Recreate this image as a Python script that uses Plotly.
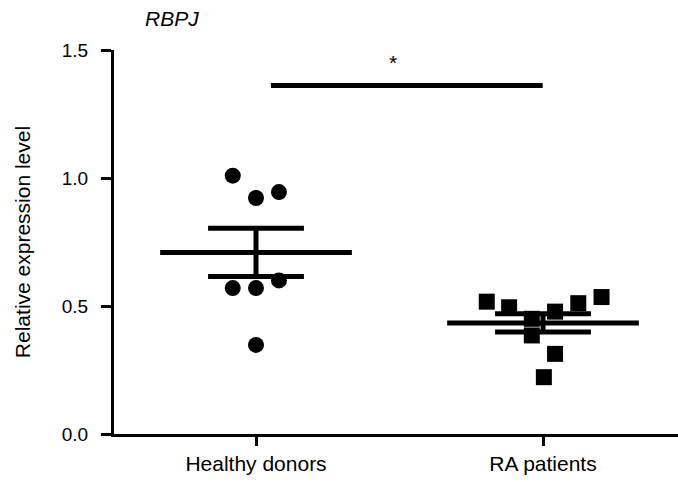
import numpy as np
import plotly.graph_objects as go

# Relative RBPJ expression per subject
groups = ["Healthy donors", "RA patients"]
healthy_values = [1.009, 0.922, 0.945, 0.570, 0.570, 0.600, 0.348]
healthy_offsets = [-0.081, 0.0, 0.080, -0.081, 0.0, 0.080, 0.0]
ra_values = [0.517, 0.495, 0.450, 0.385, 0.478, 0.511, 0.535, 0.313, 0.222]
ra_offsets = [-0.196, -0.118, -0.039, -0.039, 0.042, 0.123, 0.204, 0.042, 0.003]

y_ticks = [0.0, 0.5, 1.0, 1.5]
y_tick_labels = ["0.0", "0.5", "1.0", "1.5"]

sig_bar_y = 1.361
sig_bar_x = [0.052, 0.999]
sig_label = "*"

MEAN_HALF = 0.334
SEM_HALF = 0.167
LINE_W = 5

fig = go.Figure()

def add_group(center, values, offsets, symbol):
    vals = np.array(values)
    mean = vals.mean()
    sem = vals.std(ddof=1) / np.sqrt(len(vals))
    xs = [center + o for o in offsets]
    fig.add_trace(go.Scatter(
        x=xs, y=values, mode="markers",
        marker=dict(symbol=symbol, size=16, color="black", line=dict(width=0)),
        showlegend=False, hoverinfo="skip"))
    # mean line
    fig.add_trace(go.Scatter(
        x=[center - MEAN_HALF, center + MEAN_HALF], y=[mean, mean], mode="lines",
        line=dict(color="black", width=LINE_W), showlegend=False, hoverinfo="skip"))
    # SEM whisker with caps
    fig.add_trace(go.Scatter(
        x=[center - SEM_HALF, center + SEM_HALF, None,
           center, center, None,
           center - SEM_HALF, center + SEM_HALF],
        y=[mean + sem, mean + sem, None,
           mean + sem, mean - sem, None,
           mean - sem, mean - sem],
        mode="lines", line=dict(color="black", width=LINE_W),
        showlegend=False, hoverinfo="skip"))

add_group(0, healthy_values, healthy_offsets, "circle")
add_group(1, ra_values, ra_offsets, "square")

# significance bar
fig.add_trace(go.Scatter(
    x=sig_bar_x, y=[sig_bar_y, sig_bar_y], mode="lines",
    line=dict(color="black", width=LINE_W), showlegend=False, hoverinfo="skip"))
fig.add_annotation(x=0.476, y=1.451, text=sig_label, showarrow=False,
                   xanchor="center", yanchor="middle",
                   font=dict(family="Liberation Sans, Arial", size=21, color="black"))

fig.update_layout(
    width=678, height=482,
    margin=dict(l=114, r=0, t=50, b=48),
    plot_bgcolor="white", paper_bgcolor="white",
    font=dict(family="Liberation Sans, Arial", size=20, color="black"),
    title=dict(text="RBPJ", x=145 / 678, xanchor="left", xref="container",
               y=1 - 19 / 482, yanchor="middle", yref="container",
               font=dict(size=21, style="italic", color="black")),
    xaxis=dict(range=[-0.4948, 1.4704], tickmode="array", tickvals=[0, 1],
               ticktext=groups, showline=True, linecolor="black", linewidth=3,
               ticks="outside", ticklen=9, tickwidth=3, tickcolor="black",
               showgrid=False, zeroline=False,
               tickfont=dict(size=21)),
    yaxis=dict(range=[0, 1.5], tickmode="array", tickvals=y_ticks,
               ticktext=y_tick_labels, showline=True, linecolor="black",
               linewidth=3, ticks="outside", ticklen=10, tickwidth=3,
               tickcolor="black", showgrid=False, zeroline=False,
               ticklabelstandoff=9,
               tickfont=dict(size=19),
               title=dict(text="Relative expression level",
                          font=dict(size=21), standoff=26)),
)

fig.write_html("out.html")
